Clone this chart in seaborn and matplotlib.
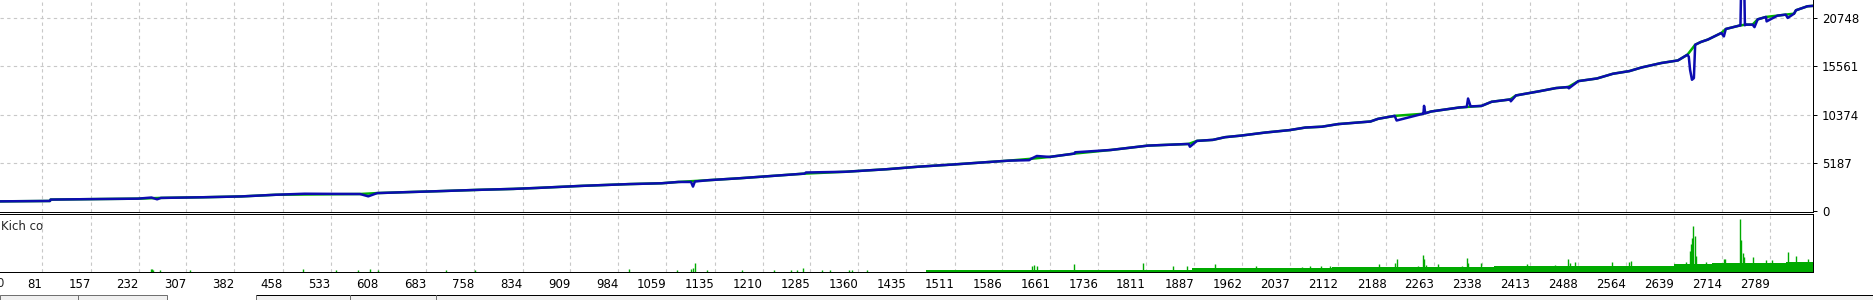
import numpy as np
import pandas as pd
import matplotlib
matplotlib.use("Agg")
import matplotlib.pyplot as plt
from matplotlib.patches import Rectangle
from matplotlib.lines import Line2D
import seaborn as sns

# ---------------- data ----------------
# balance curve: main trend vertices (bar index, value)
trend_idx = [0, 93, 94, 173, 231, 267, 333, 393, 447, 579, 606, 651, 699, 765, 819, 855, 927,
             1001, 1052, 1078, 1125, 1174, 1225, 1276, 1340, 1404, 1455, 1506, 1558, 1596, 1631,
             1660, 1699, 1756, 1814, 1878, 1891, 1916, 1935, 1960, 1998, 2036, 2061, 2087, 2112,
             2163, 2175, 2201, 2245, 2258, 2302, 2337, 2353, 2382, 2391, 2429, 2454, 2473, 2489,
             2518, 2543, 2569, 2588, 2619, 2645, 2660, 2672, 2681, 2692, 2713, 2720, 2741, 2751,
             2762, 2770, 2783, 2801, 2814, 2827, 2830, 2848, 2858]
trend_val = [1000, 1050, 1200, 1260, 1300, 1380, 1450, 1540, 1720, 1800, 1900, 2000, 2100, 2250,
             2350, 2450, 2680, 2870, 2960, 3100, 3290, 3500, 3750, 4000, 4200, 4470, 4750, 4970,
             5220, 5400, 5600, 5800, 6160, 6550, 7020, 7200, 7530, 7640, 7930, 8100, 8430, 8690,
             8970, 9060, 9340, 9620, 9910, 10230, 10450, 10700, 11130, 11300, 11750, 12000, 12430,
             12900, 13230, 13340, 13980, 14260, 14770, 15060, 15450, 15930, 16210, 16830, 17900,
             18200, 18460, 19170, 19600, 19960, 20070, 20070, 20640, 20900, 21040, 21150, 21250,
             21620, 22050, 22100]

# short excursions (spikes / dips) of the blue line
exc_idx = [252, 261, 492, 592, 1098, 1101, 1104, 1278, 1628, 1640, 1700, 1880, 2204,
           2246, 2247, 2249, 2314, 2316, 2320, 2383, 2474, 2662, 2664, 2667, 2670,
           2717, 2743, 2744, 2749, 2750, 2765, 2784, 2817]
exc_val = [1420, 1230, 1830, 1550, 3100, 2600, 3150, 4120, 5450, 5900, 6300, 6900, 9730,
           10450, 11310, 10500, 11200, 12100, 11250, 11800, 13200, 16600, 15200, 14124, 14300,
           18800, 19980, 24000, 24000, 20000, 19800, 20420, 20790]

# lower panel ("Kich co"): base lot level steps
base_idx = [1466, 1884, 2103, 2357, 2512, 2639, 2699, 2814, 2858]
base_lot = [0.035, 0.065, 0.08, 0.10, 0.115, 0.14, 0.16, 0.184, 0.184]

# lower panel: individual spikes
spike_idx = [251, 253, 255, 266, 312, 490, 541, 576, 595, 607, 714, 760, 1000, 1076, 1098, 1101,
             1104, 1123, 1178, 1228, 1254, 1264, 1274, 1303, 1316, 1345, 1350, 1374,
             1632, 1636, 1640, 1698, 1807, 1854, 1876, 1919, 1984, 2056, 2068, 2086, 2099, 2127,
             2177, 2202, 2204, 2238, 2245, 2247, 2250, 2269, 2307, 2314, 2316, 2337, 2409, 2453,
             2473, 2476, 2483, 2542, 2569, 2571, 2658, 2664, 2666, 2667, 2669, 2671, 2673, 2689,
             2717, 2719, 2743, 2744, 2747, 2749, 2762, 2783, 2793, 2817, 2830, 2849]
spike_lot = [0.04, 0.04, 0.02, 0.02, 0.02, 0.04, 0.02, 0.02, 0.04, 0.02, 0.02, 0.02, 0.04, 0.02,
             0.04, 0.06, 0.16, 0.02, 0.02, 0.02, 0.02, 0.02, 0.06, 0.02, 0.02, 0.02, 0.02, 0.02,
             0.10, 0.12, 0.10, 0.14, 0.17, 0.10, 0.10, 0.14, 0.10, 0.09, 0.10, 0.10, 0.10, 0.09,
             0.14, 0.16, 0.24, 0.10, 0.32, 0.24, 0.13, 0.14, 0.11, 0.26, 0.16, 0.16, 0.14, 0.13,
             0.24, 0.17, 0.18, 0.18, 0.18, 0.20, 0.18, 0.40, 0.55, 0.66, 0.90, 0.70, 0.30, 0.18,
             0.25, 0.25, 1.05, 0.62, 0.36, 0.28, 0.28, 0.22, 0.22, 0.38, 0.30, 0.25]

x_tick_labels = ["81", "157", "232", "307", "382", "458", "533", "608", "683", "758", "834",
                 "909", "984", "1059", "1135", "1210", "1285", "1360", "1435", "1511", "1586",
                 "1661", "1736", "1811", "1887", "1962", "2037", "2112", "2188", "2263", "2338",
                 "2413", "2488", "2564", "2639", "2714", "2789"]
y_ticks = [0, 5187, 10374, 15561, 20748]
panel_label = "Kich co"

# ---------------- styling ----------------
sns.set_style("white")
plt.rcParams["font.family"] = ["DejaVu Sans"]
plt.rcParams["font.size"] = 8.5

BLUE = "#0c0cb0"
GREEN = "#00aa00"
GRID = "#c8c8c8"
W, H = 1874, 300
SPW = 0.72  # 1 px

fig = plt.figure(figsize=(W / 100, H / 100), dpi=100)
fig.patch.set_facecolor("white")

right_px = 1813.5
ax = fig.add_axes([0, (H - 211.5) / H, right_px / W, 211.5 / H])
ax2 = fig.add_axes([0, (H - 271.5) / H, right_px / W, (271.5 - 213.5) / H])

x_left, x_right = 14.7, 2857.5
tick_pos = [int(t) for t in x_tick_labels]

# balance (blue) and equity-like trend (green)
trend = pd.DataFrame({"idx": trend_idx, "val": trend_val})
exc = pd.DataFrame({"idx": exc_idx, "val": exc_val})
blue = pd.concat([trend, exc]).sort_values("idx").reset_index(drop=True)

sns.lineplot(data=trend, x="idx", y="val", ax=ax, color="#00b000", lw=1.8,
             estimator=None, sort=False, zorder=3)
sns.lineplot(data=blue, x="idx", y="val", ax=ax, color=BLUE, lw=1.8,
             estimator=None, sort=False, zorder=4)

ax.set_xlim(x_left, x_right)
ax.set_ylim(-86, 22726)
ax.set_xlabel("")
ax.set_ylabel("")
ax.set_xticks(tick_pos)
ax.set_xticklabels([])
ax.tick_params(axis="x", length=0)
ax.yaxis.tick_right()
ax.set_yticks(y_ticks)
ax.set_yticklabels([str(v) for v in y_ticks])
ax.tick_params(axis="y", length=3, width=SPW, pad=3, colors="black", labelsize=8.5)
ax.grid(True, linestyle=(0, (3, 3)), color=GRID, lw=0.8)
ax.yaxis.get_gridlines()[0].set_visible(False)
ax.set_axisbelow(True)
for s in ["top", "left"]:
    ax.spines[s].set_visible(False)
for s in ["bottom", "right"]:
    ax.spines[s].set_color("black")
    ax.spines[s].set_linewidth(SPW)

# lower panel
ax2.fill_between(base_idx, base_lot, step="post", color=GREEN, lw=0)
ax2.vlines(spike_idx, 0, spike_lot, color=GREEN, lw=1.0)
ax2.set_xlim(x_left, x_right)
ax2.set_ylim(0, 1.15)
ax2.set_yticks([])
ax2.set_xticks(tick_pos)
ax2.set_xticklabels(x_tick_labels, ha="right")
ax2.tick_params(axis="x", length=3, width=SPW, pad=1.5, colors="black", labelsize=8.5)
ax2.grid(True, axis="x", linestyle=(0, (3, 3)), color=GRID, lw=0.8)
ax2.set_axisbelow(True)
ax2.spines["left"].set_visible(False)
for s in ["top", "bottom", "right"]:
    ax2.spines[s].set_color("black")
    ax2.spines[s].set_linewidth(SPW)
ax2.annotate(panel_label, xy=(0, 1), xycoords="axes fraction", xytext=(1, -13),
             textcoords="offset pixels", ha="left", va="center", fontsize=8.5)
ax2.annotate("0", xy=(0, 0), xycoords="axes fraction", xytext=(3.5, -12),
             textcoords="offset pixels", ha="right", va="center", fontsize=8.5,
             annotation_clip=False)

# bottom window strip
def fy(px):
    return (H - px) / H

fig.add_artist(Rectangle((0, 0), 167 / W, fy(295), transform=fig.transFigure,
                         facecolor="#f0f0f0", edgecolor="#707070", lw=SPW))
fig.add_artist(Line2D([77.7 / W, 77.7 / W], [0, fy(295)], transform=fig.transFigure,
                      color="#707070", lw=SPW))
fig.add_artist(Rectangle((256.5 / W, 0), 1 - 256.5 / W, fy(294.5), transform=fig.transFigure,
                         facecolor="#f0f0f0", edgecolor="none"))
fig.add_artist(Line2D([256.5 / W, 1], [fy(294.5), fy(294.5)], transform=fig.transFigure,
                      color="black", lw=SPW))
for xp in [256.5, 350, 436]:
    fig.add_artist(Line2D([xp / W, xp / W], [0, fy(294.5)], transform=fig.transFigure,
                          color="#707070", lw=SPW))

fig.savefig("out.png", dpi=100, facecolor="white")
